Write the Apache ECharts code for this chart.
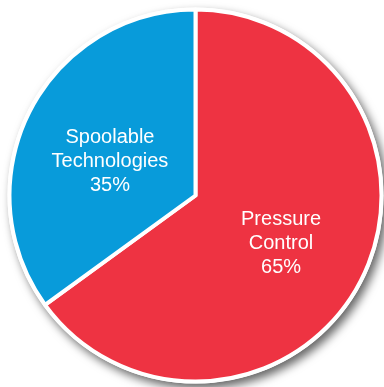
<!DOCTYPE html>
<html>
<head>
<meta charset="utf-8">
<script src="https://cdn.jsdelivr.net/npm/echarts@6/dist/echarts.min.js"></script>
<style>
  html, body { margin: 0; padding: 0; background: #fff; }
  #chart { width: 384px; height: 387px; }
</style>
</head>
<body>
<div id="chart"></div>
<script>
// Revenue split by business segment
const categories = ['Pressure\nControl', 'Spoolable\nTechnologies'];
const shares = [65, 35];
const colors = ['#EE3342', '#089BDA'];

const chart = echarts.init(document.getElementById('chart'), null, { renderer: 'canvas' });

const total = shares.reduce((a, b) => a + b, 0);
const center = [195.5, 195.5];
// small nudges so each label sits centred in its slice
const labelNudge = [[0, 4], [0, 10]];

chart.setOption({
  animation: false,
  series: [
    {
      // white disc under the slices, carrying the drop shadow
      type: 'pie',
      silent: true,
      center: center,
      radius: 188,
      startAngle: 90,
      label: { show: false },
      labelLine: { show: false },
      itemStyle: {
        color: '#ffffff',
        shadowBlur: 10,
        shadowOffsetX: 4,
        shadowOffsetY: 5,
        shadowColor: 'rgba(0,0,0,0.6)'
      },
      data: [{ value: total, name: '' }]
    },
    {
      type: 'pie',
      center: center,
      radius: 186,
      startAngle: 90,
      clockwise: true,
      itemStyle: { borderColor: '#ffffff', borderWidth: 4 },
      label: {
        show: true,
        position: 'inside',
        color: '#ffffff',
        fontFamily: 'Liberation Sans, Arial, sans-serif',
        fontSize: 20,
        lineHeight: 24,
        align: 'center',
        formatter: p => p.name + '\n' + p.value + '%'
      },
      labelLine: { show: false },
      data: categories.map((c, i) => ({
        name: c,
        value: shares[i],
        itemStyle: { color: colors[i] },
        label: { offset: labelNudge[i] }
      }))
    }
  ]
});
</script>
</body>
</html>
